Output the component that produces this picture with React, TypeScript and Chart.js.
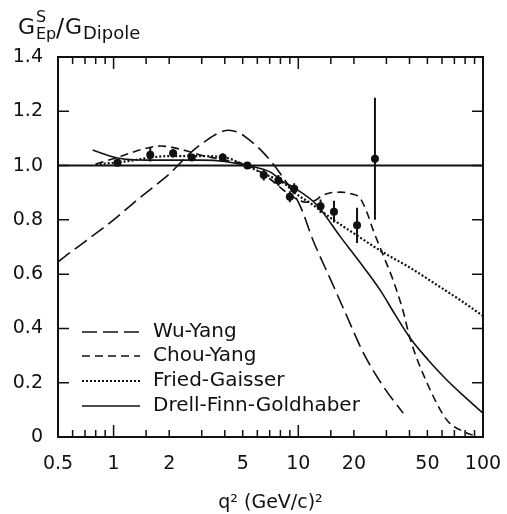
import React, { useEffect, useRef } from "react";
import { Chart, registerables } from "chart.js";

Chart.register(...registerables);

// ---- axis ticks ----
const xTickValues = [0.5, 0.6, 0.7, 0.8, 0.9, 1, 1.5, 2, 3, 4, 5, 6, 7, 8, 9, 10, 15, 20, 30, 40, 50, 60, 70, 80, 90, 100];
const xLabeled = [0.5, 1, 2, 5, 10, 20, 50, 100];
const xMajor = [1, 10, 100];
const yTickValues = [0, 0.2, 0.4, 0.6, 0.8, 1.0, 1.2, 1.4];

// ---- model curves ----
const wuYangX = [0.5, 0.54, 0.7, 0.85, 1.0, 1.28, 1.6, 2.03, 2.6, 3.2, 3.7, 4.2, 4.8, 5.3, 6.5, 8.0, 10.3, 12, 15, 18.4, 22.5, 29, 37];
const wuYangY = [0.645, 0.663, 0.72, 0.763, 0.8, 0.862, 0.915, 0.973, 1.046, 1.094, 1.12, 1.13, 1.12, 1.1, 1.046, 0.97, 0.847, 0.726, 0.578, 0.442, 0.31, 0.184, 0.088];

const chouYangX = [0.8, 1.05, 1.4, 1.8, 2.4, 2.95, 4, 5.3, 6.8, 8.3, 9.4, 11, 12.2, 13.5, 15, 17, 19.5, 21.6, 23.6, 25.4, 28.8, 32.6, 36.8, 40.3, 49.8, 63.7, 81.7, 88];
const chouYangY = [1.006, 1.03, 1.058, 1.072, 1.057, 1.039, 1.02, 1.002, 0.958, 0.91, 0.884, 0.865, 0.87, 0.89, 0.9, 0.902, 0.895, 0.88, 0.825, 0.763, 0.67, 0.578, 0.468, 0.362, 0.199, 0.063, 0.015, 0.007];

const friedGaisserX = [0.8, 1.0, 1.3, 1.6, 2, 2.5, 3, 4, 5, 6.5, 8.3, 10, 11.6, 15.5, 20, 28.8, 40, 53.5, 75, 100];
const friedGaisserY = [1.005, 1.01, 1.02, 1.03, 1.035, 1.035, 1.035, 1.03, 1.005, 0.97, 0.936, 0.89, 0.862, 0.8, 0.75, 0.68, 0.625, 0.57, 0.505, 0.446];

const drellX = [0.77, 1.05, 1.5, 2, 3, 4, 5.3, 7.06, 8.3, 9.4, 12.6, 16.8, 21.7, 27.7, 33.5, 40.3, 50.5, 63.7, 79.9, 100];
const drellY = [1.057, 1.028, 1.02, 1.02, 1.02, 1.015, 1.0, 0.976, 0.94, 0.92, 0.855, 0.74, 0.641, 0.542, 0.45, 0.365, 0.284, 0.21, 0.147, 0.088];

// ---- measured points ----
const dataX = [1.05, 1.58, 2.1, 2.65, 3.9, 5.3, 6.5, 7.8, 9.0, 9.5, 13.2, 15.6, 20.8, 26.0];
const dataY = [1.01, 1.04, 1.045, 1.03, 1.03, 1.0, 0.965, 0.945, 0.885, 0.915, 0.85, 0.83, 0.78, 1.025];
const dataErr = [0.01, 0.025, 0.015, 0.01, 0.015, 0.01, 0.02, 0.02, 0.02, 0.02, 0.025, 0.04, 0.065, 0.225];

const reference = [1.0];

const legendLabels = ["Wu-Yang", "Chou-Yang", "Fried-Gaisser", "Drell-Finn-Goldhaber"];

const INK = "#111";
const FONT = "'DejaVu Sans', sans-serif";

const zip = (xs: number[], ys: number[]) => xs.map((x, i) => ({ x, y: ys[i] }));

export default function App() {
  const canvasRef = useRef<HTMLCanvasElement | null>(null);

  useEffect(() => {
    if (!canvasRef.current) return;

    const framePlugin = {
      id: "frameTicks",
      afterDatasetsDraw(chart: any) {
        const { ctx, chartArea, scales } = chart;
        const { left, right, top, bottom } = chartArea;
        const xs = scales.x;
        const ys = scales.y;
        ctx.save();
        ctx.strokeStyle = INK;
        ctx.setLineDash([]);
        ctx.lineWidth = 2;
        ctx.strokeRect(left, top, right - left, bottom - top);
        ctx.lineWidth = 1.5;
        ctx.beginPath();
        for (const v of xTickValues) {
          const px = xs.getPixelForValue(v);
          const len = xMajor.includes(v) ? 12 : 7;
          ctx.moveTo(px, bottom);
          ctx.lineTo(px, bottom - len);
          ctx.moveTo(px, top);
          ctx.lineTo(px, top + len);
        }
        for (const v of yTickValues) {
          const py = ys.getPixelForValue(v);
          ctx.moveTo(left, py);
          ctx.lineTo(left + 11, py);
          ctx.moveTo(right, py);
          ctx.lineTo(right - 11, py);
        }
        ctx.stroke();

        // error bars
        const dsIndex = chart.data.datasets.findIndex((d: any) => d.label === "data");
        if (dsIndex >= 0) {
          const meta = chart.getDatasetMeta(dsIndex);
          ctx.lineWidth = 2;
          ctx.beginPath();
          meta.data.forEach((pt: any, j: number) => {
            const lo = ys.getPixelForValue(dataY[j] - dataErr[j]);
            const hi = ys.getPixelForValue(dataY[j] + dataErr[j]);
            ctx.moveTo(pt.x, lo);
            ctx.lineTo(pt.x, hi);
          });
          ctx.stroke();
        }

        // legend
        const rows = [332, 356, 381, 406];
        chart.data.datasets.forEach((d: any) => {
          const idx = legendLabels.indexOf(d.label);
          if (idx < 0) return;
          const yy = rows[idx];
          ctx.lineWidth = d.borderWidth;
          ctx.setLineDash(d.borderDash || []);
          ctx.beginPath();
          ctx.moveTo(82, yy);
          ctx.lineTo(140, yy);
          ctx.stroke();
          ctx.setLineDash([]);
          ctx.fillStyle = INK;
          ctx.font = `20px ${FONT}`;
          ctx.textAlign = "left";
          ctx.textBaseline = "middle";
          ctx.fillText(d.label, 153, yy);
        });

        // y-axis title: G^S_Ep / G_Dipole
        ctx.fillStyle = INK;
        ctx.textBaseline = "alphabetic";
        ctx.textAlign = "left";
        ctx.font = `22px ${FONT}`;
        ctx.fillText("G", 18, 34);
        ctx.font = `16px ${FONT}`;
        ctx.fillText("S", 36, 22);
        ctx.fillText("Ep", 36, 39);
        ctx.font = `24px ${FONT}`;
        ctx.fillText("/", 56, 36);
        ctx.font = `22px ${FONT}`;
        ctx.fillText("G", 65, 34);
        ctx.font = `18px ${FONT}`;
        ctx.fillText("Dipole", 83, 39);
        ctx.restore();
      },
    };

    const curve = (label: string, xs: number[], ys: number[], dash: number[], width: number) => ({
      label,
      data: zip(xs, ys),
      showLine: true,
      borderColor: INK,
      borderWidth: width,
      borderDash: dash,
      pointRadius: 0,
      cubicInterpolationMode: "monotone",
      fill: false,
    });

    const chart = new Chart(canvasRef.current, {
      type: "scatter",
      data: {
        datasets: [
          {
            label: "ref",
            data: [
              { x: 0.5, y: reference[0] },
              { x: 100, y: reference[0] },
            ],
            showLine: true,
            borderColor: INK,
            borderWidth: 2,
            pointRadius: 0,
          },
          curve(legendLabels[0], wuYangX, wuYangY, [15, 6], 1.6),
          curve(legendLabels[1], chouYangX, chouYangY, [8, 5], 1.6),
          curve(legendLabels[2], friedGaisserX, friedGaisserY, [2, 2], 2.2),
          curve(legendLabels[3], drellX, drellY, [], 1.6),
          {
            label: "data",
            data: zip(dataX, dataY),
            showLine: false,
            pointRadius: 4,
            pointBackgroundColor: INK,
            pointBorderColor: INK,
            pointBorderWidth: 0,
          },
        ] as any,
      },
      options: {
        animation: false,
        responsive: true,
        maintainAspectRatio: false,
        layout: { padding: { top: 57, right: 24, left: 0, bottom: 0 } },
        plugins: {
          legend: { display: false },
          tooltip: { enabled: false },
          title: { display: false },
        },
        scales: {
          x: {
            type: "logarithmic",
            min: 0.5,
            max: 100,
            afterBuildTicks: (s: any) => {
              s.ticks = xTickValues.map((v) => ({ value: v }));
            },
            afterFit: (s: any) => {
              s.height = 77;
              s.paddingLeft = 0;
              s.paddingRight = 0;
            },
            ticks: {
              autoSkip: false,
              maxRotation: 0,
              minRotation: 0,
              padding: 16,
              color: INK,
              font: { family: FONT, size: 19 },
              callback: (v: any) => (xLabeled.includes(Number(v)) ? String(v) : ""),
            },
            grid: { display: false, drawTicks: false },
            border: { display: false },
            title: {
              display: true,
              text: "q² (GeV/c)²",
              color: INK,
              font: { family: FONT, size: 19 },
              padding: { top: 0, bottom: 0 },
            },
          },
          y: {
            type: "linear",
            min: 0,
            max: 1.4,
            afterBuildTicks: (s: any) => {
              s.ticks = yTickValues.map((v) => ({ value: v }));
            },
            afterFit: (s: any) => {
              s.width = 58;
              s.paddingTop = 0;
              s.paddingBottom = 0;
            },
            ticks: {
              padding: 15,
              color: INK,
              font: { family: FONT, size: 19 },
              callback: (v: any) => (Number(v) === 0 ? "0" : Number(v).toFixed(1)),
            },
            grid: { display: false, drawTicks: false },
            border: { display: false },
          },
        },
      } as any,
      plugins: [framePlugin],
    });

    return () => chart.destroy();
  }, []);

  return (
    <div style={{ position: "absolute", left: 0, top: 0, width: 507, height: 514, background: "#fff" }}>
      <canvas ref={canvasRef} />
    </div>
  );
}
